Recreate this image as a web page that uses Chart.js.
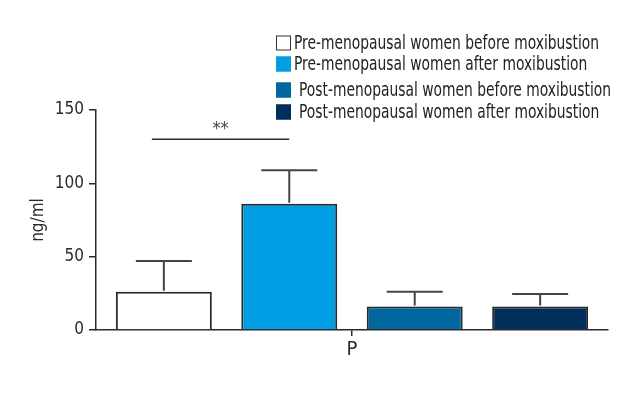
<!DOCTYPE html>
<html lang="en">
<head>
    <meta charset="UTF-8">
    <title>ng/ml</title>
    <script src="https://cdn.jsdelivr.net/npm/chart.js@4/dist/chart.umd.min.js"></script>
    <style>
        html, body { margin: 0; padding: 0; background: #fff; }
        .wrap { width: 640px; height: 400px; }
    </style>
</head>
<body>
    <div class="wrap"><canvas id="chart" width="640" height="400"></canvas></div>
    <script>
        // data
        const categories = ['P'];
        const seriesLabels = [
            'Pre-menopausal women before moxibustion',
            'Pre-menopausal women after moxibustion',
            'Post-menopausal women before moxibustion',
            'Post-menopausal women after moxibustion'
        ];
        const means = [26, 86, 16, 16];
        const errors = [21, 23, 10, 8.5];
        const yTicks = [0, 50, 100, 150];
        const sigLevel = 130;
        const sigLabel = '**';

        const colors = ['#ffffff', '#009fe3', '#00679f', '#002e5d'];
        const FONT = "'DejaVu Sans Condensed', 'Liberation Sans', sans-serif";
        const INK = '#2b2b2b';

        const datasets = seriesLabels.map(function (lbl, i) {
            return {
                label: lbl,
                data: [means[i]],
                backgroundColor: colors[i],
                borderColor: '#2a2a2a',
                borderWidth: 2,
                borderSkipped: 'bottom',
                barPercentage: 0.765,
                categoryPercentage: 0.98
            };
        });

        // error bars (upper only), significance bar, legend
        const extras = {
            id: 'extras',
            afterDatasetsDraw(chart) {
                const ctx = chart.ctx;
                const y = chart.scales.y;
                ctx.save();
                ctx.strokeStyle = '#444444';
                ctx.lineWidth = 2;
                chart.data.datasets.forEach(function (ds, i) {
                    const bar = chart.getDatasetMeta(i).data[0];
                    const top = y.getPixelForValue(means[i] + errors[i]);
                    ctx.beginPath();
                    ctx.moveTo(bar.x, bar.y - 1);
                    ctx.lineTo(bar.x, top);
                    ctx.moveTo(bar.x - 28, top);
                    ctx.lineTo(bar.x + 28, top);
                    ctx.stroke();
                });

                // ** line between first two bars
                const b0 = chart.getDatasetMeta(0).data[0];
                const b1 = chart.getDatasetMeta(1).data[0];
                const sy = y.getPixelForValue(sigLevel);
                ctx.strokeStyle = INK;
                ctx.lineWidth = 1.5;
                ctx.beginPath();
                ctx.moveTo(b0.x - 12, sy);
                ctx.lineTo(b1.x, sy);
                ctx.stroke();
                ctx.fillStyle = '#444444';
                ctx.font = '18px ' + FONT;
                ctx.textAlign = 'center';
                ctx.textBaseline = 'bottom';
                ctx.fillText(sigLabel, (b0.x - 12 + b1.x) / 2, sy - 1);
                ctx.restore();
            },
            afterDraw(chart) {
                const ctx = chart.ctx;
                const rows = [43, 64, 90, 112];
                const textX = [294, 294, 299, 299];
                const squeeze = 0.77;
                ctx.save();
                ctx.textBaseline = 'middle';
                ctx.textAlign = 'left';
                chart.data.datasets.forEach(function (ds, i) {
                    ctx.fillStyle = ds.backgroundColor;
                    ctx.fillRect(276, rows[i] - 7.5, 15, 15);
                    ctx.strokeStyle = i === 0 ? '#333333' : ds.backgroundColor;
                    ctx.lineWidth = 1;
                    ctx.strokeRect(276.5, rows[i] - 7, 14, 14);
                    ctx.save();
                    ctx.translate(textX[i], rows[i] + 1);
                    ctx.scale(squeeze, 1);
                    ctx.font = '20px ' + FONT;
                    ctx.fillStyle = '#222222';
                    ctx.fillText(ds.label, 0, 0);
                    ctx.restore();
                });
                ctx.restore();
            }
        };

        new Chart(document.getElementById('chart'), {
            type: 'bar',
            data: { labels: categories, datasets: datasets },
            plugins: [extras],
            options: {
                responsive: false,
                animation: false,
                layout: { padding: { top: 110, right: 32, bottom: 30, left: 0 } },
                plugins: {
                    legend: { display: false },
                    tooltip: { enabled: false }
                },
                scales: {
                    x: {
                        grid: {
                            display: true,
                            offset: false,
                            drawOnChartArea: false,
                            drawTicks: true,
                            tickLength: 6,
                            color: INK,
                            lineWidth: 1.5
                        },
                        border: { display: true, color: INK, width: 1.5 },
                        ticks: { color: INK, font: { family: FONT, size: 20 }, padding: 2 },
                        afterFit(scale) { scale.height = 40; }
                    },
                    y: {
                        min: 0,
                        max: 150,
                        afterBuildTicks(scale) {
                            scale.ticks = yTicks.map(function (v) { return { value: v }; });
                        },
                        grid: {
                            display: true,
                            drawOnChartArea: false,
                            drawTicks: true,
                            tickLength: 7,
                            color: INK,
                            lineWidth: 1.5
                        },
                        border: { display: true, color: INK, width: 1.5 },
                        ticks: { color: INK, font: { family: FONT, size: 17 }, padding: 5 },
                        title: {
                            display: true,
                            text: 'ng/ml',
                            color: INK,
                            font: { family: FONT, size: 17 },
                            padding: { top: 28, bottom: 0 }
                        },
                        afterFit(scale) { scale.width = 96; }
                    }
                }
            }
        });
    </script>
</body>
</html>
